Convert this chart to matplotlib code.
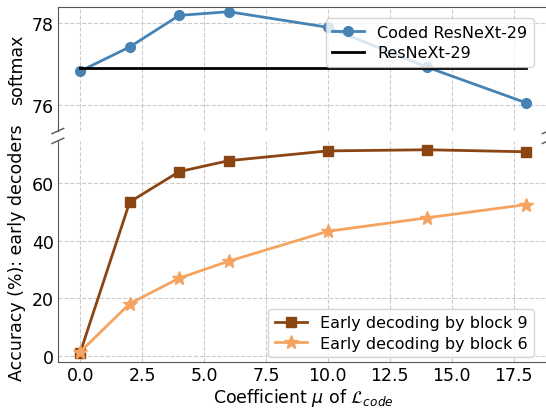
import numpy as np
import matplotlib.pyplot as plt

# DATA

mu = [0, 2, 4, 6, 10, 14, 18]

# top panel: softmax accuracy
coded_resnext = [76.83, 77.42, 78.19, 78.28, 77.90, 76.93, 76.06]
baseline_resnext = 76.90

# bottom panel: early decoders accuracy
block9 = [1.0, 53.5, 64.1, 67.9, 71.3, 71.7, 71.0]
block6 = [1.3, 18.1, 27.0, 32.9, 43.3, 48.0, 52.6]

# FIGURE

fig = plt.figure(figsize=(5.46, 4.10), dpi=100)
ax1 = fig.add_axes([0.106, 0.678, 0.898, 0.302])
ax2 = fig.add_axes([0.106, 0.114, 0.898, 0.540], sharex=ax1)

spine_col = '#555555'
for ax in (ax1, ax2):
    ax.grid(True, linestyle='--', color='#cccccc', linewidth=0.8)
    ax.tick_params(length=0, labelsize=12.5, pad=3)
    for s in ax.spines.values():
        s.set_color(spine_col)

# top panel
ax1.plot(mu, coded_resnext, 'o-', color='steelblue', lw=2, ms=7,
         label='Coded ResNeXt-29')
ax1.plot([mu[0], mu[-1]], [baseline_resnext] * 2, '-', color='black', lw=2,
         label='ResNeXt-29')
ax1.set_ylim(75.37, 78.39)
ax1.set_yticks([76, 78])
ax1.spines['bottom'].set_visible(False)
ax1.tick_params(labelbottom=False)
ax1.legend(loc='upper right', fontsize=11.5, labelspacing=0.35,
           handlelength=2.0, borderaxespad=0.3,
           bbox_to_anchor=(0.98, 0.95))

# bottom panel
ax2.plot(mu, block9, 's-', color='saddlebrown', lw=2, ms=7,
         label='Early decoding by block 9')
ax2.plot(mu, block6, '*-', color='sandybrown', lw=2, ms=10,
         label='Early decoding by block 6')
ax2.set_ylim(-2.3, 74.8)
ax2.set_yticks([0, 20, 40, 60])
ax2.set_xlim(-0.9, 18.9)
ax2.spines['top'].set_visible(False)
ax2.legend(loc='lower right', fontsize=11.5, labelspacing=0.35,
           handlelength=2.0, borderaxespad=0.3,
           bbox_to_anchor=(0.98, 0.0))
ax2.set_xlabel(r'Coefficient $\mu$ of $\mathcal{L}_{code}$', fontsize=12.5,
               labelpad=1)

# y labels
ax1.set_ylabel('softmax', fontsize=12.5)
ax2.set_ylabel('Accuracy (%): early decoders', fontsize=12.5)
fig.align_ylabels([ax1, ax2])

# break marks
d = 0.012
kw = dict(color=spine_col, clip_on=False, lw=1)
ax1.plot((-d, d), (-d * 1.8, d * 1.8), transform=ax1.transAxes, **kw)
ax1.plot((1 - d, 1 + d), (-d * 1.8, d * 1.8), transform=ax1.transAxes, **kw)
ax2.plot((-d, d), (1 - d, 1 + d), transform=ax2.transAxes, **kw)
ax2.plot((1 - d, 1 + d), (1 - d, 1 + d), transform=ax2.transAxes, **kw)

plt.savefig('out.png', dpi=100)
